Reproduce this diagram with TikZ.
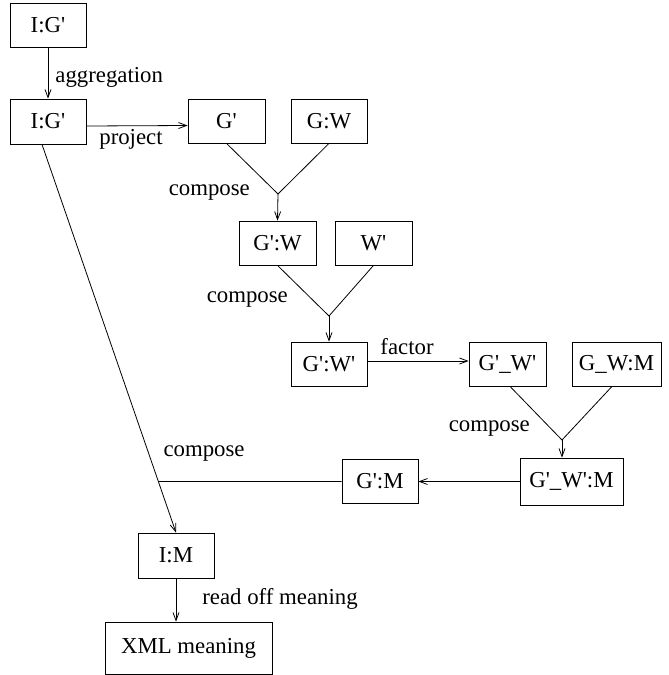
\documentclass[tikz,border=0pt]{standalone}
\usepackage{fontspec}
\setmainfont{LiberationSerif}[Extension=.ttf,UprightFont=*-Regular,BoldFont=*-Bold,ItalicFont=*-Italic,BoldItalicFont=*-BoldItalic]
\newcommand{\pq}{\textquotesingle}
\usetikzlibrary{arrows.meta,calc}
\begin{document}
\begin{tikzpicture}[x=1pt,y=-1pt,
  every node/.style={font=\rmfamily\fontsize{22.8}{27}\selectfont},
  box/.style={draw,line width=0.8pt,inner sep=0pt,minimum width=#1,minimum height=44pt},
  box/.default=76pt,
  lbl/.style={inner sep=0pt},
  conn/.style={line width=0.8pt},
  arr/.style={conn,-{Straight Barb[length=8pt,width=6pt]}}]
\useasboundingbox (0,0) rectangle (669,675);

% boxes
\node[box] (ig1) at (48,25) {I:G\pq};
\node[box,minimum height=45pt] (ig2) at (48,121.5) {I:G\pq};
\node[box=77pt] (gp) at (226.5,121) {G\pq};
\node[box] (gw) at (329,121) {G:W};
\node[box=77pt] (gpw) at (277.5,243) {G\pq:W};
\node[box=77pt] (wp) at (373.5,243) {W\pq};
\node[box] (gpwp) at (329,364) {G\pq:W\pq};
\node[box=77pt] (gu) at (507.5,364) {G\pq\_W\pq};
\node[box=89pt] (gwm) at (616.5,364) {G\_W:M};
\node[box=103pt,minimum height=47pt] (gum) at (571.5,481.5) {G\pq\_W\pq:M};
\node[box] (gm) at (380,481.5) {G\pq:M};
\node[box,minimum height=45pt] (im) at (176,555.5) {I:M};
\node[box=167pt,minimum height=52pt] (xml) at (188.5,648) {XML meaning};

% junction points where two results are composed
\coordinate (j1) at (278,194);
\coordinate (j2) at (329,316);
\coordinate (j3) at (562,440);
\coordinate (top) at ([xshift=-6pt]ig2.south);
\coordinate (j4) at (intersection of top--im.north and gm.west--gum.west);

% connectors
\draw[arr] (ig1) -- node[lbl,right=7pt,yshift=-4pt] {aggregation} (ig2);
\draw[arr] ([yshift=-4.5pt]ig2.east) -- node[lbl,below=3pt,xshift=-6pt] {project} ([yshift=-4.5pt]gp.west);

\draw[conn] (gp.south) -- (j1) -- (gw.south);
\draw[arr] (j1) -- (gpw.north);
\draw[conn] (gpw.south) -- (j2) -- (wp.south);
\draw[arr] (j2) -- (gpwp.north);
\draw[arr] ([yshift=3pt]gpwp.east) -- node[lbl,above=6pt,xshift=-11pt] {factor} ([yshift=3pt]gu.west);
\draw[conn] ([xshift=2.5pt]gu.south) -- (j3) -- ([xshift=-4.5pt]gwm.south);
\draw[arr] (j3) -- (j3 |- gum.north);
\draw[arr] (gum.west) -- (gm.east);
\draw[conn] (gm.west) -- (j4);
\draw[arr] (top) -- (im.north);
\draw[arr] (im.south) -- node[lbl,right=26pt,yshift=1pt] {read off meaning} (im.south |- xml.north);

% labels of the compose steps
\node[lbl,anchor=east] (c1) at ([xshift=-28pt,yshift=1pt]j1) {compose};
\node[lbl,anchor=east] (c2) at ([xshift=-41pt,yshift=16pt]j2) {compose};
\node[lbl,anchor=east] (c3) at ([xshift=-32pt,yshift=11pt]j3) {compose};
\node[lbl,anchor=west] (c4) at ([xshift=5pt,yshift=28pt]j4) {compose};
\end{tikzpicture}
\end{document}
